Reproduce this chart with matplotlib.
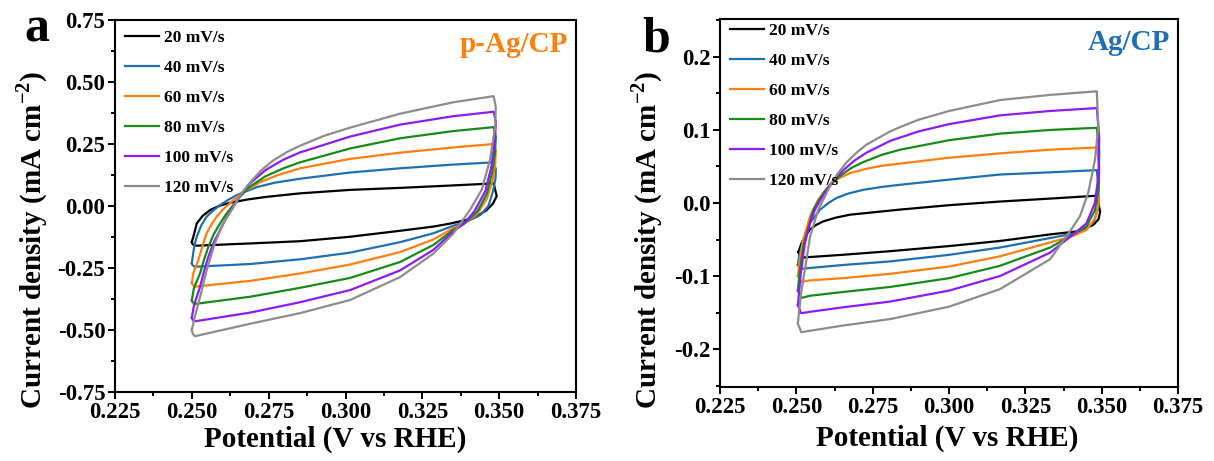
import matplotlib
matplotlib.use("Agg")
import matplotlib.pyplot as plt
from matplotlib.ticker import MultipleLocator, FormatStrFormatter

plt.rcParams.update({
    'font.family': 'Liberation Serif',
    'font.weight': 'bold',
    'axes.unicode_minus': False,
    'mathtext.fontset': 'custom',
    'mathtext.rm': 'Liberation Serif:bold',
    'mathtext.bf': 'Liberation Serif:bold',
})

# ── scan rates / colours ──────────────────────────────────────
RATES = ['20 mV/s', '40 mV/s', '60 mV/s', '80 mV/s', '100 mV/s', '120 mV/s']
COLORS = ['#000000', '#1f6fb2', '#ff7f0e', '#178a17', '#8a1cf5', '#8c8c8c']

# ── panel a : p-Ag/CP (forward branch, then reverse branch) ──
A20_V = [0.2500, 0.2508, 0.2516, 0.2535, 0.2560, 0.2590, 0.2624, 0.2680, 0.2744, 0.2852, 0.3015, 0.3177, 0.3350, 0.3482,
         0.3492, 0.3480, 0.3460, 0.3425, 0.3394, 0.3340, 0.3286, 0.3177, 0.3015, 0.2852, 0.2689, 0.2515, 0.2503, 0.2500]
A20_J = [-0.145, -0.110, -0.070, -0.040, -0.016, 0.001, 0.013, 0.026, 0.037, 0.051, 0.065, 0.073, 0.083, 0.091,
         0.040, 0.010, -0.016, -0.043, -0.056, -0.071, -0.083, -0.100, -0.124, -0.142, -0.151, -0.160, -0.155, -0.145]

A40_V = [0.2500, 0.2508, 0.2516, 0.2530, 0.2548, 0.2570, 0.2592, 0.2620, 0.2646, 0.2711, 0.2770, 0.2852, 0.3015, 0.3177, 0.3350, 0.3482,
         0.3489, 0.3488, 0.3480, 0.3465, 0.3440, 0.3400, 0.3350, 0.3286, 0.3177, 0.3015, 0.2852, 0.2689, 0.2510, 0.2503, 0.2500]
A40_J = [-0.230, -0.160, -0.124, -0.080, -0.043, -0.018, 0.004, 0.026, 0.044, 0.076, 0.094, 0.110, 0.135, 0.152, 0.167, 0.176,
         0.150, 0.110, 0.060, 0.000, -0.035, -0.060, -0.080, -0.110, -0.146, -0.188, -0.215, -0.234, -0.245, -0.240, -0.230]

A60_V = [0.2500, 0.2505, 0.2521, 0.2535, 0.2548, 0.2565, 0.2581, 0.2600, 0.2624, 0.2650, 0.2679, 0.2720, 0.2776, 0.2852, 0.3015, 0.3177, 0.3350, 0.3482,
         0.3489, 0.3487, 0.3478, 0.3460, 0.3430, 0.3390, 0.3350, 0.3286, 0.3177, 0.3015, 0.2852, 0.2689, 0.2510, 0.2503, 0.2500]
A60_J = [-0.310, -0.270, -0.218, -0.160, -0.110, -0.072, -0.043, -0.015, 0.011, 0.040, 0.065, 0.095, 0.123, 0.152, 0.190, 0.215, 0.236, 0.250,
         0.220, 0.170, 0.100, 0.030, -0.030, -0.068, -0.090, -0.135, -0.186, -0.236, -0.272, -0.302, -0.325, -0.318, -0.310]

A80_V = [0.2500, 0.2507, 0.2527, 0.2540, 0.2554, 0.2572, 0.2592, 0.2612, 0.2635, 0.2660, 0.2689, 0.2740, 0.2798, 0.2852, 0.3015, 0.3177, 0.3350, 0.3482,
         0.3489, 0.3487, 0.3478, 0.3460, 0.3430, 0.3390, 0.3350, 0.3286, 0.3177, 0.3015, 0.2852, 0.2689, 0.2510, 0.2503, 0.2500]
A80_J = [-0.380, -0.330, -0.271, -0.215, -0.164, -0.112, -0.070, -0.032, 0.004, 0.042, 0.078, 0.120, 0.152, 0.176, 0.232, 0.273, 0.302, 0.318,
         0.280, 0.220, 0.140, 0.050, -0.020, -0.068, -0.097, -0.157, -0.226, -0.290, -0.330, -0.366, -0.395, -0.388, -0.380]

A100_V = [0.2500, 0.2507, 0.2527, 0.2540, 0.2554, 0.2572, 0.2592, 0.2612, 0.2635, 0.2660, 0.2689, 0.2740, 0.2798, 0.2852, 0.3015, 0.3177, 0.3350, 0.3482,
          0.3489, 0.3487, 0.3475, 0.3455, 0.3420, 0.3385, 0.3350, 0.3286, 0.3177, 0.3015, 0.2852, 0.2689, 0.2510, 0.2503, 0.2500]
A100_J = [-0.450, -0.400, -0.325, -0.262, -0.204, -0.145, -0.097, -0.048, -0.003, 0.047, 0.091, 0.145, 0.187, 0.216, 0.280, 0.328, 0.362, 0.380,
          0.340, 0.280, 0.160, 0.060, -0.020, -0.072, -0.103, -0.177, -0.260, -0.339, -0.388, -0.430, -0.465, -0.460, -0.450]

A120_V = [0.2500, 0.2507, 0.2527, 0.2548, 0.2575, 0.2602, 0.2635, 0.2660, 0.2689, 0.2725, 0.2765, 0.2810, 0.2852, 0.2930, 0.3015, 0.3177, 0.3350, 0.3482,
          0.3489, 0.3487, 0.3470, 0.3443, 0.3405, 0.3350, 0.3286, 0.3177, 0.3015, 0.2852, 0.2689, 0.2510, 0.2503, 0.2500]
A120_J = [-0.500, -0.460, -0.366, -0.260, -0.150, -0.070, -0.005, 0.048, 0.094, 0.143, 0.184, 0.218, 0.243, 0.283, 0.316, 0.372, 0.418, 0.443,
          0.400, 0.320, 0.185, 0.065, -0.016, -0.112, -0.192, -0.287, -0.379, -0.432, -0.475, -0.525, -0.515, -0.500]

# ── panel b : Ag/CP ───────────────────────────────────────────
B20_V = [0.2507, 0.2517, 0.2530, 0.2545, 0.2565, 0.2589, 0.2630, 0.2676, 0.2840, 0.3000, 0.3167, 0.3330, 0.3484,
         0.3495, 0.3490, 0.3473, 0.3418, 0.3331, 0.3167, 0.3000, 0.2807, 0.2650, 0.2545, 0.2512, 0.2507]
B20_J = [-0.067, -0.055, -0.045, -0.036, -0.030, -0.025, -0.020, -0.016, -0.009, -0.003, 0.002, 0.006, 0.010,
         -0.012, -0.022, -0.030, -0.039, -0.043, -0.052, -0.059, -0.066, -0.071, -0.074, -0.075, -0.067]

B40_V = [0.2505, 0.2508, 0.2523, 0.2545, 0.2578, 0.2605, 0.2632, 0.2670, 0.2719, 0.2780, 0.2840, 0.3000, 0.3167, 0.3330, 0.3484,
         0.3490, 0.3490, 0.3475, 0.3440, 0.3407, 0.3331, 0.3167, 0.3000, 0.2807, 0.2650, 0.2545, 0.2518, 0.2505]
B40_J = [-0.085, -0.075, -0.050, -0.027, -0.009, 0.000, 0.007, 0.013, 0.018, 0.022, 0.025, 0.032, 0.039, 0.042, 0.045,
         0.020, -0.005, -0.025, -0.038, -0.042, -0.048, -0.061, -0.071, -0.080, -0.085, -0.089, -0.090, -0.085]

B60_V = [0.2505, 0.2512, 0.2523, 0.2545, 0.2572, 0.2610, 0.2640, 0.2676, 0.2730, 0.2780, 0.2840, 0.3000, 0.3167, 0.3330, 0.3484,
         0.3492, 0.3490, 0.3480, 0.3450, 0.3407, 0.3331, 0.3167, 0.3000, 0.2807, 0.2650, 0.2545, 0.2516, 0.2505]
B60_J = [-0.100, -0.075, -0.050, -0.018, 0.005, 0.025, 0.034, 0.041, 0.047, 0.051, 0.054, 0.062, 0.068, 0.073, 0.076,
         0.050, 0.000, -0.020, -0.037, -0.045, -0.054, -0.073, -0.087, -0.097, -0.103, -0.106, -0.108, -0.100]

B80_V = [0.2505, 0.2512, 0.2525, 0.2556, 0.2589, 0.2615, 0.2643, 0.2680, 0.2719, 0.2780, 0.2840, 0.3000, 0.3167, 0.3330, 0.3484,
         0.3492, 0.3490, 0.3478, 0.3450, 0.3407, 0.3331, 0.3167, 0.3000, 0.2807, 0.2650, 0.2545, 0.2516, 0.2505]
B80_J = [-0.120, -0.090, -0.055, -0.009, 0.014, 0.027, 0.037, 0.048, 0.056, 0.066, 0.073, 0.086, 0.095, 0.100, 0.103,
         0.070, 0.020, -0.010, -0.032, -0.043, -0.061, -0.086, -0.103, -0.115, -0.122, -0.127, -0.130, -0.120]

B100_V = [0.2505, 0.2515, 0.2528, 0.2545, 0.2561, 0.2580, 0.2599, 0.2625, 0.2654, 0.2690, 0.2730, 0.2807, 0.2900, 0.3000, 0.3167, 0.3330, 0.3484,
          0.3492, 0.3490, 0.3478, 0.3450, 0.3407, 0.3331, 0.3167, 0.3000, 0.2807, 0.2650, 0.2545, 0.2516, 0.2505]
B100_J = [-0.140, -0.095, -0.055, -0.027, -0.009, 0.005, 0.018, 0.032, 0.045, 0.058, 0.069, 0.085, 0.098, 0.108, 0.120, 0.126, 0.130,
          0.090, 0.040, 0.000, -0.028, -0.043, -0.068, -0.100, -0.120, -0.135, -0.143, -0.149, -0.151, -0.140]

B120_V = [0.2505, 0.2515, 0.2528, 0.2545, 0.2572, 0.2610, 0.2635, 0.2665, 0.2700, 0.2730, 0.2807, 0.2840, 0.2900, 0.3000, 0.3167, 0.3330, 0.3484,
          0.3489, 0.3478, 0.3456, 0.3429, 0.3396, 0.3331, 0.3167, 0.3000, 0.2807, 0.2650, 0.2545, 0.2516, 0.2505]
B120_J = [-0.165, -0.125, -0.091, -0.046, -0.009, 0.023, 0.040, 0.056, 0.070, 0.080, 0.098, 0.104, 0.114, 0.126, 0.141, 0.148, 0.153,
          0.105, 0.059, 0.014, -0.018, -0.039, -0.077, -0.118, -0.142, -0.159, -0.168, -0.175, -0.177, -0.165]

A_CURVES = [(A20_V, A20_J), (A40_V, A40_J), (A60_V, A60_J), (A80_V, A80_J), (A100_V, A100_J), (A120_V, A120_J)]
B_CURVES = [(B20_V, B20_J), (B40_V, B40_J), (B60_V, B60_J), (B80_V, B80_J), (B100_V, B100_J), (B120_V, B120_J)]

X_TICKS = [0.225, 0.250, 0.275, 0.300, 0.325, 0.350, 0.375]
A_YTICKS = [-0.75, -0.50, -0.25, 0.00, 0.25, 0.50, 0.75]
B_YTICKS = [-0.2, -0.1, 0.0, 0.1, 0.2]


def style_axis(ax, curves, yticks, ylim, yminor, yfmt, label, label_color, label_y,
               leg_top, ylab_pos, xlab_pos):
    for (v, j), name, c in zip(curves, RATES, COLORS):
        ax.plot(v, j, color=c, lw=1.6, label=name)
    ax.set_xlim(0.225, 0.375)
    ax.set_ylim(*ylim)
    ax.set_xticks(X_TICKS)
    ax.set_yticks(yticks)
    ax.xaxis.set_minor_locator(MultipleLocator(0.0125))
    ax.yaxis.set_minor_locator(MultipleLocator(yminor))
    ax.xaxis.set_major_formatter(FormatStrFormatter('%.3f'))
    ax.yaxis.set_major_formatter(FormatStrFormatter(yfmt))
    ax.tick_params(which='both', direction='out', top=False, right=False,
                   width=1.4, labelsize=16.5, pad=2)
    ax.tick_params(which='major', length=5)
    ax.tick_params(which='minor', length=3)
    for s in ax.spines.values():
        s.set_linewidth(1.5)
    ax.set_xlabel('Potential (V vs RHE)', fontsize=21, fontweight='bold')
    ax.set_ylabel(r'Current density (mA cm$^{-2}$)', fontsize=21, fontweight='bold')
    ax.xaxis.set_label_coords(*xlab_pos)
    ax.yaxis.set_label_coords(*ylab_pos)
    leg = ax.legend(loc='upper left', frameon=False, fontsize=12.5, handlelength=2.0,
                    handletextpad=0.3, labelspacing=0.80, borderaxespad=0.15,
                    bbox_to_anchor=(0.0, leg_top))
    for t in leg.get_texts():
        t.set_fontweight('bold')
    ax.text(0.982, label_y, label, transform=ax.transAxes, ha='right', va='center',
            fontsize=21, fontweight='bold', color=label_color)


fig = plt.figure(figsize=(12.14, 4.61), dpi=100)
ax_a = fig.add_axes([115 / 1214, 1 - 392 / 461, 461 / 1214, 372 / 461])
ax_b = fig.add_axes([720 / 1214, 1 - 387 / 461, 458 / 1214, 368 / 461])

style_axis(ax_a, A_CURVES, A_YTICKS, (-0.75, 0.75), 0.125, '%.2f', 'p-Ag/CP', '#ff7f0e', 0.934,
           1.0, (-0.14, 0.41), (0.478, -0.09))
style_axis(ax_b, B_CURVES, B_YTICKS, (-0.252, 0.252), 0.05, '%.1f', 'Ag/CP', '#1f6fb2', 0.935,
           1.016, (-0.12, 0.40), (0.495, -0.103))

fig.text(37 / 1214, 1 - 30 / 461, 'a', fontsize=36, fontweight='bold', ha='center', va='center')
fig.text(656 / 1214, 1 - 40 / 461, 'b', fontsize=36, fontweight='bold', ha='center', va='center')

fig.savefig('out.png', dpi=100)
